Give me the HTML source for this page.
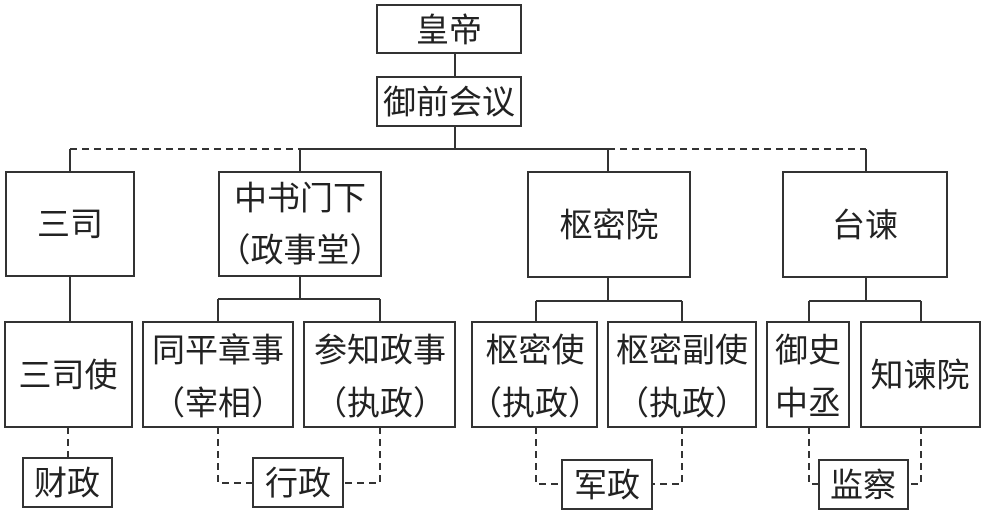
<!DOCTYPE html>
<html><head><meta charset="utf-8"><style>
body{margin:0;background:#fff}
svg text{font-family:"Liberation Sans","Noto Sans CJK SC",sans-serif;font-size:33px;fill:#222;text-anchor:middle;dominant-baseline:central}
</style></head><body>
<svg width="985" height="514" viewBox="0 0 985 514" xmlns="http://www.w3.org/2000/svg">
<g fill="none" stroke="#333" stroke-width="2">
<rect x="377" y="5" width="144" height="48"/>
<rect x="377" y="77" width="144" height="49"/>
<rect x="6" y="172" width="128" height="104"/>
<rect x="219" y="172" width="162" height="104"/>
<rect x="528" y="172" width="162" height="105"/>
<rect x="783" y="172" width="164" height="105"/>
<rect x="5" y="322" width="127" height="105"/>
<rect x="143" y="322" width="150" height="105"/>
<rect x="304" y="322" width="151" height="105"/>
<rect x="472" y="322" width="125" height="105"/>
<rect x="608" y="322" width="148" height="105"/>
<rect x="767" y="322" width="82" height="105"/>
<rect x="861" y="322" width="119" height="105"/>
<rect x="23" y="458" width="89" height="49"/>
<rect x="253" y="458" width="90" height="49"/>
<rect x="562" y="460" width="90" height="49"/>
<rect x="819" y="460" width="89" height="49"/>
<path d="M455 53V77M455 126V149M300 149H608M300 149V172M608 149V172M70 149V172M866 149V172"/>
<path d="M70 276V322M300 276V299M218 299H380M218 299V322M380 299V322"/>
<path d="M608 277V301M536 301H682M536 301V322M682 301V322"/>
<path d="M866 277V301M809 301H921M809 301V322M921 301V322"/>
<g stroke-dasharray="7,5">
<path d="M70 149H300M608 149H866"/>
<path d="M68 427V458"/>
<path d="M218 427V483H253M380 427V483H343"/>
<path d="M536 427V484H562M682 427V484H652"/>
<path d="M809 427V484H819M921 427V484H908"/>
</g>
</g>
<text x="449" y="30">皇帝</text>
<text x="449" y="102">御前会议</text>
<text x="70" y="224">三司</text>
<text x="300" y="198">中书门下</text>
<text x="300" y="250">（政事堂）</text>
<text x="609" y="225">枢密院</text>
<text x="865" y="225">台谏</text>
<text x="68" y="375">三司使</text>
<text x="218" y="350">同平章事</text>
<text x="218" y="403">（宰相）</text>
<text x="380" y="350">参知政事</text>
<text x="380" y="403">（执政）</text>
<text x="535" y="350">枢密使</text>
<text x="535" y="403">（执政）</text>
<text x="682" y="350">枢密副使</text>
<text x="682" y="403">（执政）</text>
<text x="808" y="350">御史</text>
<text x="808" y="403">中丞</text>
<text x="920" y="375">知谏院</text>
<text x="67" y="483">财政</text>
<text x="298" y="483">行政</text>
<text x="607" y="485">军政</text>
<text x="863" y="485">监察</text>
</svg>
</body></html>
